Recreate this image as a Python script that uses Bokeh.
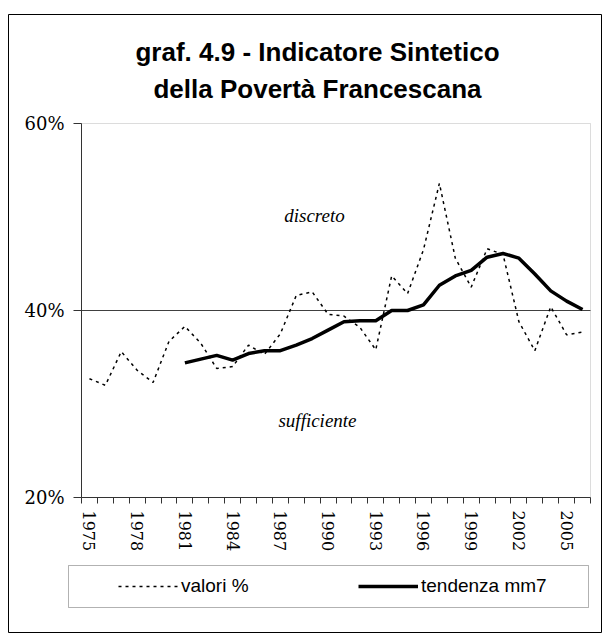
import math
from bokeh.plotting import figure
from bokeh.models import (Range1d, FixedTicker, Label, Legend, LegendItem,
                          BoxAnnotation, ColumnDataSource)
from bokeh.embed import file_html
from bokeh.resources import INLINE

# ---------------- data ----------------
years = list(range(1975, 2007))
valori = [32.7, 32.0, 35.6, 33.6, 32.3, 36.7, 38.3, 36.5, 33.8, 34.0,
          36.3, 35.3, 37.5, 41.6, 42.0, 39.6, 39.4, 38.2, 35.8, 43.7,
          41.8, 46.5, 53.6, 45.6, 42.5, 46.6, 46.0, 38.8, 35.7, 40.4,
          37.4, 37.7]
trend_years = list(range(1981, 2007))
tendenza = [34.4, 34.8, 35.2, 34.7, 35.4, 35.7, 35.7, 36.3, 37.0, 37.9,
            38.8, 38.9, 38.9, 40.0, 40.0, 40.6, 42.7, 43.7, 44.3, 45.7,
            46.1, 45.6, 43.9, 42.1, 41.0, 40.1]
x_tick_labels = ["1975", "1978", "1981", "1984", "1987", "1990",
                 "1993", "1996", "1999", "2002", "2005"]
y_ticks = [20, 40, 60]
y_tick_labels = ["20%", "40%", "60%"]
threshold = 40
title_lines = ["graf. 4.9 - Indicatore Sintetico", "della Povertà Francescana"]
zone_labels = ["discreto", "sufficiente"]

# ---------------- layout (pixels on the page) ----------------
W, H = 602, 633
BOX_L, BOX_R, BOX_T, BOX_B = 8, 601, 14, 632        # outer chart border
PA_L, PA_R, PA_T, PA_B = 81, 590, 123, 497          # plot area
YMIN, YMAX = y_ticks[0], y_ticks[-1]
NCAT = len(years)
ux = (PA_R - PA_L) / NCAT
uy = (PA_B - PA_T) / (YMAX - YMIN)

def px2x(px):
    return (px - PA_L) / ux

def py2y(py):
    return YMIN + (PA_B - py) / uy

first = years[0]
def xpos(y):
    return y - first + 0.5

src_v = ColumnDataSource(dict(x=[xpos(y) for y in years], y=valori))
src_t = ColumnDataSource(dict(x=[xpos(y) for y in trend_years], y=tendenza))

p = figure(width=W, height=H, output_backend="svg", toolbar_location=None,
           x_range=Range1d(px2x(BOX_L), px2x(BOX_R)),
           y_range=Range1d(py2y(BOX_B), py2y(BOX_T)),
           min_border_left=BOX_L, min_border_right=W - BOX_R,
           min_border_top=BOX_T, min_border_bottom=H - BOX_B)
p.background_fill_color = "white"
p.border_fill_color = "white"
p.outline_line_color = "black"
p.outline_line_width = 1
p.xgrid.visible = False
p.ygrid.visible = False

# plot-area frame (top / right borders in grey)
p.add_layout(BoxAnnotation(left=0, right=NCAT, bottom=YMIN, top=YMAX,
                           fill_alpha=0, line_color="#8c8c8c", line_width=1,
                           level="underlay"))
# 40% threshold line
p.segment(x0=[0], x1=[NCAT], y0=[threshold], y1=[threshold],
          line_color="#404040", line_width=1)

# x axis: boundary ticks (minor) + centred labels (major)
xt = [xpos(int(l)) for l in x_tick_labels]
xa = p.xaxis[0]
xa.fixed_location = YMIN
xa.bounds = (0, NCAT)
xa.ticker = FixedTicker(ticks=xt, minor_ticks=list(range(NCAT + 1)))
xa.major_label_overrides = {t: l for t, l in zip(xt, x_tick_labels)}
xa.major_tick_out = 0
xa.major_tick_in = 0
xa.minor_tick_out = 6
xa.minor_tick_in = 0
xa.minor_tick_line_color = "#333333"
xa.axis_line_color = "#333333"
xa.major_label_orientation = -math.pi / 2
xa.major_label_text_font = "DejaVu Serif"
xa.major_label_text_font_size = "16px"
xa.major_label_text_color = "black"
xa.major_label_standoff = 7

ya = p.yaxis[0]
ya.fixed_location = 0
ya.bounds = (YMIN, YMAX)
ya.ticker = FixedTicker(ticks=y_ticks, minor_ticks=[])
ya.major_label_overrides = {t: l for t, l in zip(y_ticks, y_tick_labels)}
ya.major_tick_out = 8
ya.major_tick_in = 0
ya.minor_tick_out = 0
ya.minor_tick_in = 0
ya.major_tick_line_color = "#333333"
ya.axis_line_color = "#333333"
ya.major_label_text_font = "DejaVu Serif"
ya.major_label_text_font_size = "18px"
ya.major_label_text_color = "black"
ya.major_label_standoff = 9

r1 = p.line("x", "y", source=src_v, line_color="black", line_width=1.5,
            line_dash="3 4")
r2 = p.line("x", "y", source=src_t, line_color="black", line_width=3.5,
            line_join="round")

# zone labels
p.add_layout(Label(x=px2x(314), y=py2y(215), text=zone_labels[0], text_align="center",
                   text_baseline="middle", text_font="Liberation Serif",
                   text_font_style="italic", text_font_size="19px",
                   text_color="black"))
p.add_layout(Label(x=px2x(317), y=py2y(420), text=zone_labels[1], text_align="center",
                   text_baseline="middle", text_font="Liberation Serif",
                   text_font_style="italic", text_font_size="19px",
                   text_color="black"))

# title
for t, yy in zip(title_lines, [51, 88]):
    p.add_layout(Label(x=px2x(317), y=py2y(yy), text=t,
                       text_align="center", text_baseline="middle",
                       text_font="Liberation Sans", text_font_style="bold",
                       text_font_size="26px", text_color="black"))

# legend
legend = Legend(items=[LegendItem(label="valori %", renderers=[r1]),
                       LegendItem(label="tendenza mm7", renderers=[r2])],
                orientation="horizontal", location=(118 - BOX_L, BOX_B - 597),
                padding=0, margin=0, border_line_color=None,
                background_fill_alpha=0, glyph_width=60, glyph_height=22,
                label_width=170, spacing=7, label_standoff=3,
                label_text_font="Liberation Sans", label_text_font_size="19px",
                label_text_color="black", label_height=22)
p.add_layout(legend)
p.add_layout(BoxAnnotation(left=px2x(68), right=px2x(588), top=py2y(565),
                           bottom=py2y(607), fill_alpha=0, line_color="black",
                           line_width=1))

open("out.html", "w").write(file_html(p, INLINE))
